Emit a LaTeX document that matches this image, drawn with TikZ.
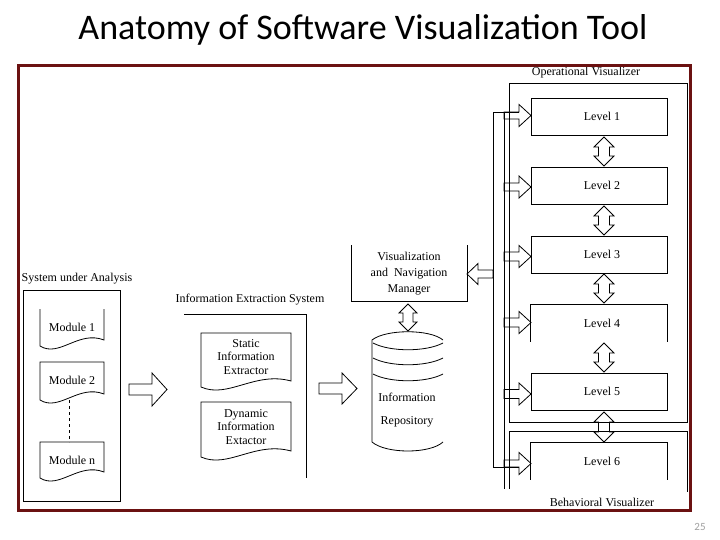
\documentclass[tikz,border=0pt]{standalone}
\usepackage{fontspec}
\setmainfont{Liberation Serif}
\newfontfamily\titlefont{Carlito}
\definecolor{framered}{HTML}{6B1111}
\definecolor{pagegray}{HTML}{A0A0A0}
\tikzset{
  ln/.style={line width=0.8pt, draw=black},
  lbl/.style={font=\fontsize{12}{13.5}\selectfont, inner sep=0pt, align=center},
  lvl/.style={ln, minimum width=136pt, minimum height=37pt, inner sep=0pt, font=\fontsize{12}{13.5}\selectfont},
}
% right/left pointing hollow arrow: x1, xhead, xtip, yc, shaft half, head half
\newcommand\blockH[6]{\draw[ln] (#1,#4-#5) -- (#2,#4-#5) -- (#2,#4-#6) -- (#3,#4) -- (#2,#4+#6) -- (#2,#4+#5) -- (#1,#4+#5) -- cycle;}
% vertical double hollow arrow: x, y1, y2, shaft half, head half, head length
\newcommand\blockV[6]{\draw[ln] (#1,#2) -- (#1+#5,#2+#6) -- (#1+#4,#2+#6) -- (#1+#4,#3-#6) -- (#1+#5,#3-#6) -- (#1,#3) -- (#1-#5,#3-#6) -- (#1-#4,#3-#6) -- (#1-#4,#2+#6) -- (#1-#5,#2+#6) -- cycle;}
% document shape without top: L R T B
\newcommand\docOpen[4]{\draw[ln] (#1,#3) -- (#1,#4) .. controls (#1+0.3*#2-0.3*#1,#4+12) and (#1+0.6*#2-0.6*#1,#4-16) .. (#2,#4-6) -- (#2,#3);}
\newcommand\docClosed[4]{\draw[ln] (#1,#3) -- (#1,#4) .. controls (#1+0.3*#2-0.3*#1,#4+12) and (#1+0.6*#2-0.6*#1,#4-16) .. (#2,#4-6) -- (#2,#3) -- cycle;}
\begin{document}
\begin{tikzpicture}[x=1pt,y=-1pt]
\useasboundingbox (0,0) rectangle (720,540);
\fill[white] (0,0) rectangle (720,540);

% title
\node[font=\titlefont\fontsize{36}{40}\selectfont, anchor=base, inner sep=0pt] (title) at (363,40) {Anatomy of Software Visualization Tool};

% System under Analysis
\node[lbl] (sualbl) at (77,279) {System under Analysis};
\draw[ln] (23,290) rectangle (120,501);
\docOpen{40}{104}{309}{346}
\node[lbl] (m1) at (72,327) {Module 1};
\docClosed{40}{104}{362}{400}
\node[lbl] (m2) at (72,380) {Module 2};
\docClosed{40}{104}{442}{478}
\node[lbl] (mn) at (72,460) {Module n};
\coordinate (m2b) at (69,400);
\coordinate (mnt) at (69,442);
\draw[ln, dashed] (m2b) -- (mnt);

% arrow 1
\blockH{129}{152}{167}{389.5}{5.5}{16.5}

% Information Extraction System
\node[lbl] (ieslbl) at (250,300) {Information Extraction System};
\draw[ln] (184,314) -- (306,314) -- (306,478);
\docClosed{201}{291}{333}{387}
\node[lbl] (sie) at (246,357) {Static\\Information\\Extractor};
\docClosed{201}{291}{402}{457}
\node[lbl] (die) at (246,427) {Dynamic\\Information\\Extactor};

% arrow 2
\blockH{319}{342}{357}{388.5}{5.5}{15.5}

% Visualization and Navigation Manager
\draw[ln] (351,245) -- (351,301) -- (467,301) -- (467,245);
\node[lbl, font=\fontsize{12}{16}\selectfont] (vnm) at (409,274) {Visualization\\and\ \ Navigation\\Manager};
\blockV{408}{304}{331}{5}{9}{9}

% Information Repository (cylinder)
\draw[ln] (443,340) .. controls (430,329) and (386,329) .. (372,340) -- (372,442)
  .. controls (386,454) and (430,454) .. (443,442);
\draw[ln] (373,343) .. controls (390,352) and (426,352) .. (443,343);
\draw[ln] (373,358) .. controls (390,367) and (426,367) .. (443,358);
\draw[ln] (373,374) .. controls (390,383) and (426,383) .. (443,374);
\node[lbl] (ir) at (407,397) {Information};
\node[lbl] (ir2) at (407,422) {Repository};

% buses
\draw[ln] (519,112) -- (493,112) -- (493,467) -- (519,467);
\draw[ln] (504,112) -- (504,489);
\blockH{493}{478}{467}{274}{4}{10.5}

% Operational / Behavioral visualizer boxes
\draw[ln] (509,83) rectangle (687,422);
\draw[ln] (509,489) -- (509,431) -- (687,431) -- (687,492);
\node[lbl] (opv) at (586,73) {Operational Visualizer};

% levels
\node[lvl] (L1) at (599,116.5) {\hspace{6pt}Level 1};
\node[lvl] (L2) at (599,185.5) {\hspace{6pt}Level 2};
\node[lvl] (L3) at (599,254.5) {\hspace{6pt}Level 3};
\node[lvl, draw=none] (L4) at (599,323) {\hspace{6pt}Level 4};
\draw[ln] (L4.south west) -- (L4.north west) -- (L4.north east) -- (L4.south east);
\node[lvl] (L5) at (599,391.5) {\hspace{6pt}Level 5};
\node[lvl, draw=none] (L6) at (599,461) {\hspace{6pt}Level 6};
\draw[ln] (L6.south west) -- (L6.north west) -- (L6.north east) -- (L6.south east);

% arrows into levels
\blockH{504}{519}{531}{115.5}{3.5}{11}
\blockH{504}{519}{531}{187}{4}{11}
\blockH{504}{519}{531}{256.5}{4.5}{11}
\blockH{504}{519}{531}{322.5}{4.5}{11}
\blockH{504}{519}{531}{394}{4.5}{11}
\blockH{504}{519}{531}{463.5}{3.5}{11}

% double arrows between levels
\blockV{604}{137}{166}{5.5}{10}{10}
\blockV{604}{206}{235}{5.5}{10}{10}
\blockV{604}{274}{303}{5.5}{10}{10}
\blockV{604}{343}{372}{5.5}{10}{10}
\blockV{604}{412}{442}{5.5}{10}{10}

% frame
\draw[framered, line width=3pt] (18,66) rectangle (690,510);
\node[lbl] (bhv) at (602,502) {Behavioral Visualizer};

% page number
\node[font=\titlefont\fontsize{11}{13}\selectfont, text=pagegray] (pg) at (700,527) {25};
\end{tikzpicture}
\end{document}
